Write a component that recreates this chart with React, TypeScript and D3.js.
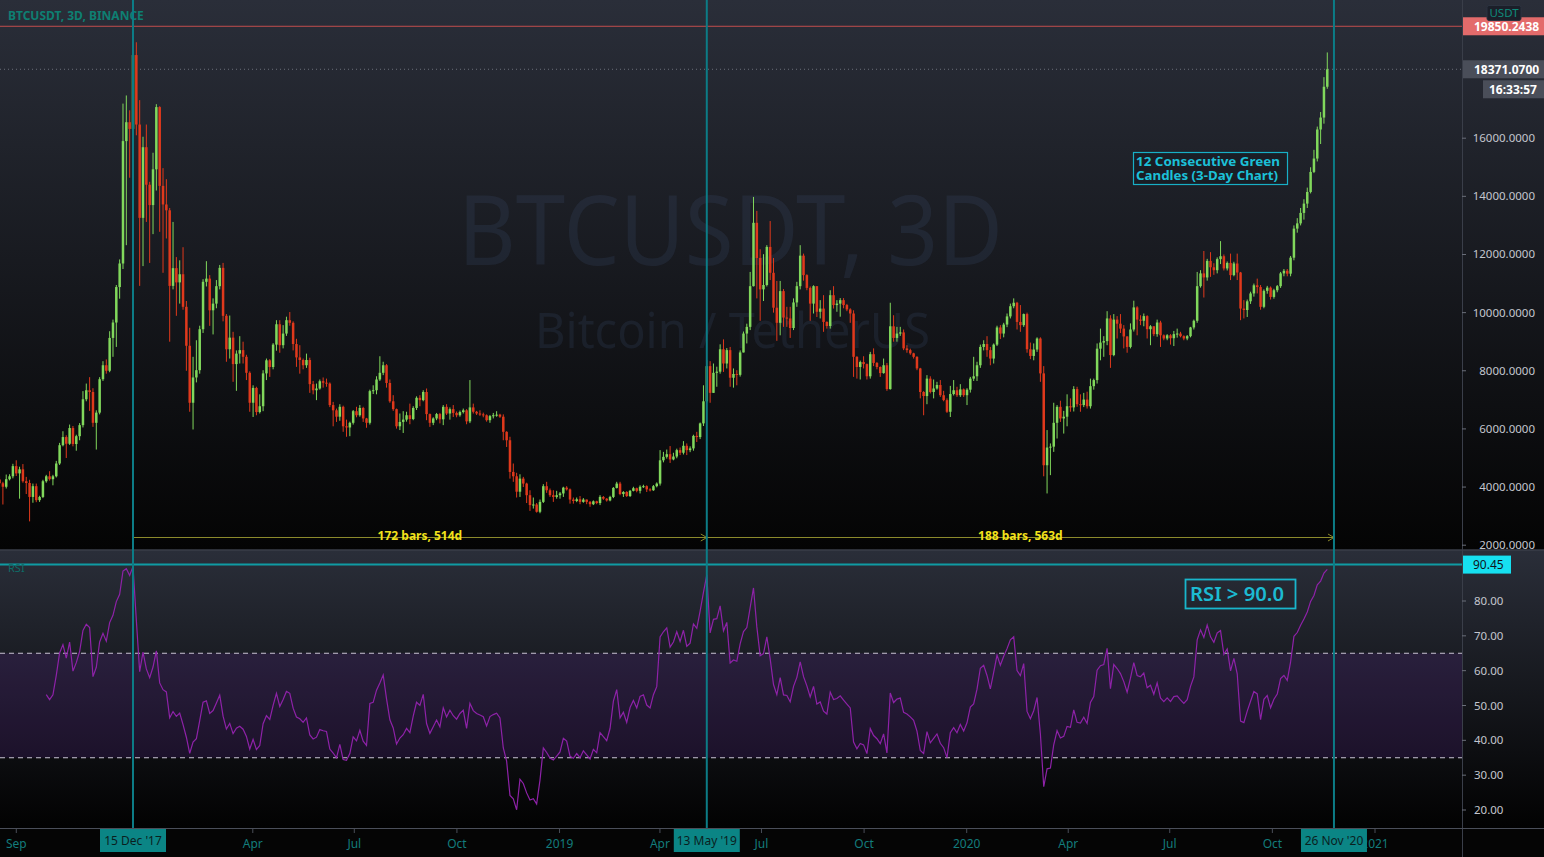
import React from 'react';
import * as d3 from 'd3';

const W = 1544;
const H = 857;

// BTCUSDT 3-day candles starting 17 Aug 2017 (open of first bar)
const firstOpen = 4261;
const closes = [
4130,4010,4270,4370,4720,4470,4610,4200,4140,3660,4030,3550,3660,4200,4370,4270,4370,4810,5440,5720,
5490,6030,5480,5750,6130,7020,7330,7270,6210,6560,7710,8190,8000,9130,9660,10880,11690,15900,16550,16320,
18860,16470,13260,15690,14400,13700,14930,17070,14360,13720,13520,10920,11530,11040,11320,10200,8860,6900,7770,8020,
9430,11060,11170,10080,10310,10910,11540,9890,8740,9140,8230,8590,8710,8480,7930,6900,7410,6580,6780,7910,
8360,8130,8900,9600,8880,9280,9740,9650,8920,8460,8370,8190,8370,7540,7330,7390,7640,7590,7560,6820,
6640,6420,6760,6090,6050,6210,6610,6470,6720,6360,6210,7300,7330,7700,7930,8190,7580,6950,6680,6090,
6240,6320,6470,6340,6720,7070,6990,7270,6510,6210,6360,6510,6330,6760,6530,6680,6550,6470,6580,6640,
6260,6740,6590,6530,6500,6470,6300,6440,6470,6490,6420,5900,5610,4520,4370,3840,4290,4120,3720,3380,
3400,3150,3490,4030,3890,3720,3660,3720,3780,3980,3920,3570,3520,3580,3490,3570,3490,3410,3510,3450,
3660,3600,3540,3660,3970,4120,3760,3830,3690,3870,3960,3870,4010,4030,3920,3890,4030,4120,4920,5040,
5130,4950,5050,5270,5180,5420,5270,5330,5760,5720,6190,6950,8160,7240,7930,7970,8740,8250,8710,7760,
7890,7860,8630,9280,9510,10910,13090,11880,10800,10950,12260,11370,10170,9650,10740,9830,9800,9470,10350,10910,
11960,11290,10850,10310,10910,10030,10140,9680,9540,10600,10260,10310,10430,10260,10110,9970,8480,8130,8300,8230,
7810,8570,8270,8130,7920,8190,7370,9530,9130,9280,9320,8770,8710,8600,8480,8080,7270,7130,7730,7270,
7390,7510,7160,6990,6590,7200,7330,7160,7360,7160,7350,7730,7810,8190,8820,8920,8710,8420,8900,9490,
9280,9590,9870,10220,10340,9680,9570,9950,8740,8510,8730,9110,7910,4750,5360,5390,6210,6760,6360,6420,
6780,6740,7370,6850,6820,7010,6780,7470,7680,8760,8970,9020,9800,8540,9760,9620,9450,9180,8820,9420,
10180,9760,9720,9880,9430,9530,9260,9660,9220,9110,9220,9120,9260,9280,9190,9110,9190,9490,9720,10910,
11350,11210,11780,11560,11460,11840,11940,11520,11710,11290,11690,11380,10140,10090,10390,10660,10940,10880,10200,10750,
10860,10540,10770,10910,11350,11440,11340,11890,12890,13070,13430,13750,14150,14840,15300,16300,16710,17770,18371.07
];
const highs = [
4370,4180,4430,4440,4800,4920,4700,4790,4350,4250,4120,4120,3700,4250,4420,4545,4420,4900,5520,5920,
5780,6150,6100,5800,6200,7300,7560,7780,7400,6640,7780,8330,8390,9360,9760,10950,11830,17190,17470,16960,
19798,19300,17310,16050,16470,14500,15500,17170,17100,14970,14590,13600,13120,11910,11800,12250,10400,9480,8480,9050,
9550,11150,11770,11290,10490,11120,11640,11710,9950,9900,9340,8700,9190,9000,8550,7980,7500,7450,7190,8020,
8420,8400,8950,9740,9740,9570,9860,10020,9700,9100,8880,8420,8590,8450,7650,7560,7700,7770,7730,7600,
6930,6700,6850,6800,6320,6250,6650,6760,6820,6760,6380,7350,7500,7810,8500,8310,8230,7700,7160,6700,
6530,6610,6590,6870,6780,7120,7160,7330,7390,6530,6400,6550,6550,6820,6850,6740,6820,6600,6630,6700,
6680,7680,6870,6620,6640,6560,6500,6480,6550,6610,6520,6500,5920,5730,4810,4490,4440,4350,4150,3890,
3640,3450,3570,4100,4180,3950,3890,3870,3830,4010,4030,3950,3640,3640,3690,3620,3570,3520,3540,3530,
3720,3690,3620,3700,4000,4180,4180,3860,3860,3900,4010,3980,4060,4080,4060,3960,4070,4160,5270,5210,
5290,5410,5180,5320,5360,5580,5500,5400,5800,5900,6220,7500,8360,8330,8250,8140,8910,9080,8780,8820,
8080,8020,8700,9350,9620,11400,13980,13500,12180,12010,12320,13150,11880,11090,11090,10810,10200,10200,10490,11060,
12320,12030,11320,10900,10940,10910,10430,10600,9700,10770,10910,10430,10500,10500,10300,10150,10080,8500,8350,8500,
8250,8650,8770,8300,8150,8420,8270,10340,9910,9510,9510,9420,8880,8760,8620,8500,8100,7300,7850,7810,
7700,7620,7680,7310,7050,7480,7680,7450,7540,7390,7400,7790,8480,8310,8900,9050,9190,8820,8940,9550,
9570,9650,9970,10310,10490,10370,10260,9970,10000,8970,8940,9150,9150,8160,5960,5500,6900,6820,6970,6620,
7190,7050,7470,7450,7190,7240,7280,7730,7730,8940,9450,9190,10050,9910,9950,9880,9950,9570,9190,9630,
10410,10220,9910,9970,9910,9570,9400,9760,9720,9250,9260,9260,9370,9450,9340,9220,9230,9510,9760,11400,
11460,12120,11850,12080,11700,11900,12460,12000,11760,12030,11750,12030,11400,10430,10450,10720,11000,11170,10950,10800,
10920,10900,10820,10950,11400,11500,11500,11950,13000,13250,13600,13900,14300,15000,15600,16400,16900,18100,18950
];
const lows = [
3980,3400,3950,4230,4300,4380,3600,4150,3760,2820,3460,3480,3490,3620,4150,4220,4060,4330,4760,5400,
5000,5450,5400,5250,5610,6050,6950,6620,6070,5290,6500,7650,7900,7950,8480,8820,10480,11500,12320,14640,
16200,16100,10920,11600,13120,11710,12700,14200,12780,11370,12550,9000,10800,9890,10310,10100,8000,6590,5980,7600,
7900,9300,10900,9545,9250,10150,10800,9700,8310,8420,7620,7310,8250,8250,7680,6590,6410,6470,6530,6610,
7680,7790,8050,8690,8620,8770,9200,9550,8700,8135,7900,8050,8100,7240,7190,6990,7350,7420,7450,6750,
6090,6240,6280,5900,5730,5750,6150,6400,6420,6240,6040,6150,7200,7190,7650,7850,7420,6900,6620,6010,
5960,5860,6250,6160,6300,6650,6780,6950,6300,6070,6130,6300,6190,6130,6480,6320,6410,6400,6420,6530,
6160,6200,6530,6480,6450,6400,6250,6210,6360,6420,6380,5610,5380,4290,4180,3640,3660,4000,3450,3180,
3260,3120,3100,3450,3800,3660,3490,3600,3600,3660,3880,3430,3430,3480,3410,3460,3410,3320,3380,3410,
3380,3560,3500,3510,3620,3950,3720,3660,3660,3660,3850,3820,3780,3970,3830,3850,3870,3990,4050,4850,
4980,4830,4920,4990,5100,5120,5100,5200,5250,5550,5650,6100,6900,6900,7300,7450,7900,7960,8080,7450,
7420,7500,7800,8650,8940,9400,10900,10490,9720,10400,10900,11120,10000,9030,9220,9510,9510,9130,9400,10200,
10800,11100,10770,9720,9970,9850,9800,9340,9450,9450,10140,10030,9860,10150,10050,9650,7790,7730,7700,8080,
7700,7730,8160,8050,7790,7900,7310,7350,9000,9000,9200,8710,8620,8550,8420,8020,7050,6470,6850,7220,
7050,7350,7100,6950,6550,6410,7150,7100,7100,7100,6820,7250,7650,7650,8100,8700,8480,8190,8250,8850,
9090,9150,9500,9800,10150,9420,9340,9510,8620,8400,8360,8650,7620,4370,3780,4410,5210,5670,6240,5840,
6090,6590,6600,6760,6590,6750,6700,6700,7350,7560,8360,8480,8880,8100,8500,9110,9300,8770,8620,8770,
9350,9220,9570,9530,9110,8880,9190,9170,8820,9050,9050,8900,8850,9140,9150,9050,9050,9150,9420,9650,
10860,10520,11100,11230,11300,11350,11670,11450,11450,11120,11250,11120,9740,9800,9850,10300,10550,10660,10100,10150,
10650,10450,10480,10700,10850,11250,11250,11250,11800,12750,13000,13200,13600,14100,14800,15200,15800,16500,17700
];

const priceTicks = [2000, 4000, 6000, 8000, 10000, 12000, 14000, 16000];
const rsiTicks = [20, 30, 40, 50, 60, 70, 80];
const timeTickDates = ['2017-09-01','2018-01-01','2018-04-01','2018-07-01','2018-10-01','2019-01-01','2019-04-01','2019-07-01','2019-10-01','2020-01-01','2020-04-01','2020-07-01','2020-10-01','2021-01-01'];
const timeTickLabels = ['Sep','2018','Apr','Jul','Oct','2019','Apr','Jul','Oct','2020','Apr','Jul','Oct','2021'];
const markerBars = [40, 212, 400];
const markerLabels = ["15 Dec '17", "13 May '19", "26 Nov '20"];
const rangeTexts = ['172 bars, 514d', '188 bars, 563d'];
const lastPrice = 18371.07;
const alertPrice = 19850.2438;
const rsiLevel = 90.45;
const rsiLength = 14;

const GREEN = '#81d85c';
const RED = '#e0391c';

function computeRsi(c: number[], len: number): (number | null)[] {
  const out: (number | null)[] = c.map(() => null);
  let up = 0, dn = 0;
  for (let i = 1; i <= len; i++) {
    const d = c[i] - c[i - 1];
    up += Math.max(d, 0);
    dn += Math.max(-d, 0);
  }
  up /= len; dn /= len;
  out[len] = dn === 0 ? 100 : 100 - 100 / (1 + up / dn);
  for (let i = len + 1; i < c.length; i++) {
    const d = c[i] - c[i - 1];
    up = (up * (len - 1) + Math.max(d, 0)) / len;
    dn = (dn * (len - 1) + Math.max(-d, 0)) / len;
    out[i] = dn === 0 ? 100 : 100 - 100 / (1 + up / dn);
  }
  return out;
}

export default function App() {
  const PANE_R = 1462;
  const x = d3.scaleLinear().domain([0, 400]).range([-0.44, 1333.96]);
  const xt = d3.scaleUtc()
    .domain([new Date(Date.UTC(2017, 7, 17)), new Date(Date.UTC(2021, 0, 1))])
    .range([-0.44, 1375]);
  const y = d3.scaleLinear().domain([2000, 16000]).range([545.2, 138.2]);
  const yr = d3.scaleLinear().domain([20, 80]).range([810, 601]);
  const opens = closes.map((c, i) => (i === 0 ? firstOpen : closes[i - 1]));
  const rsi = computeRsi(closes, rsiLength);
  const rsiPts: [number, number][] = [];
  rsi.forEach((v, i) => { if (v !== null) rsiPts.push([i, v]); });
  const line = d3.line<[number, number]>().x(d => x(d[0])).y(d => yr(d[1]));
  const bw = 2.5;
  const font = "'Noto Sans', 'DejaVu Sans', sans-serif";

  return (
    <svg width={W} height={H} style={{ position: 'absolute', left: 0, top: 0, display: 'block' }} fontFamily={font}>
      <defs>
        <linearGradient id="gp" x1="0" y1="0" x2="0" y2="1">
          <stop offset="0" stopColor="#2a2e39" />
          <stop offset="1" stopColor="#040404" />
        </linearGradient>
        <linearGradient id="gr" x1="0" y1="0" x2="0" y2="1">
          <stop offset="0" stopColor="#2a2e39" />
          <stop offset="1" stopColor="#020202" />
        </linearGradient>
        <clipPath id="cp"><rect x={0} y={0} width={PANE_R} height={549} /></clipPath>
        <clipPath id="cr"><rect x={0} y={551} width={PANE_R} height={277} /></clipPath>
      </defs>
      {/* backgrounds */}
      <rect x={0} y={0} width={W} height={550} fill="url(#gp)" />
      <rect x={0} y={550} width={W} height={278} fill="url(#gr)" />
      <rect x={0} y={828} width={W} height={29} fill="#050505" />
      {/* rsi band */}
      <rect x={0} y={yr(65)} width={PANE_R} height={yr(35) - yr(65)} fill="rgba(112,40,180,0.17)" />
      {/* watermark */}
      <text x={458} y={265} fontSize={96} textLength={545} lengthAdjust="spacingAndGlyphs" fill="rgba(70,92,135,0.17)">BTCUSDT, 3D</text>
      <text x={535} y={348} fontSize={50} textLength={395} lengthAdjust="spacingAndGlyphs" fill="rgba(70,92,135,0.17)">Bitcoin / TetherUS</text>

      {/* pane separators */}
      <line x1={0} x2={W} y1={550} y2={550} stroke="#3a3e49" strokeWidth={1.5} />
      <line x1={PANE_R + 0.5} x2={PANE_R + 0.5} y1={0} y2={857} stroke="#3a3e49" strokeWidth={1} />
      <line x1={0} x2={W} y1={828.5} y2={828.5} stroke="#4a4e59" strokeWidth={1} />

      {/* price pane */}
      <g clipPath="url(#cp)">
        <line x1={0} x2={PANE_R} y1={y(alertPrice)} y2={y(alertPrice)} stroke="#c24d4d" strokeWidth={1} />
        <line x1={0} x2={PANE_R} y1={y(lastPrice)} y2={y(lastPrice)} stroke="#6b6f7a" strokeWidth={1} strokeDasharray="1 3" />
        {closes.map((c, i) => {
          const o = opens[i];
          const up = c >= o;
          const col = up ? GREEN : RED;
          const cx = x(i);
          const hi = Math.max(highs[i], o, c);
          const lo = Math.min(lows[i], o, c);
          const top = y(Math.max(o, c));
          const bot = y(Math.min(o, c));
          return (
            <g key={i}>
              <line x1={cx} x2={cx} y1={y(hi)} y2={y(lo)} stroke={col} strokeWidth={1} />
              <rect x={cx - bw / 2} y={top} width={bw} height={Math.max(1, bot - top)} fill={col} />
            </g>
          );
        })}
        {/* date ranges */}
        {[0, 1].map(k => {
          const x1 = x(markerBars[k]);
          const x2 = x(markerBars[k + 1]);
          const yy = 537.5;
          return (
            <g key={k}>
              <line x1={x1} x2={x2} y1={yy} y2={yy} stroke="#8c8a2c" strokeWidth={1} />
              <path d={`M${x2 - 6},${yy - 3.5} L${x2},${yy} L${x2 - 6},${yy + 3.5}`} fill="none" stroke="#8c8a2c" strokeWidth={1} />
              <text x={(x1 + x2) / 2} y={yy + 2} textAnchor="middle" fontSize={12} fontWeight="bold" fill="#f2e21b">{rangeTexts[k]}</text>
            </g>
          );
        })}
        {/* annotation */}
        <rect x={1133.5} y={152.5} width={154} height={32} fill="rgba(20,24,32,0.4)" stroke="#18afc6" strokeWidth={1.2} />
        <text x={1136} y={166} fontSize={12.5} fontWeight="bold" fill="#1cc0d8" textLength={144} lengthAdjust="spacingAndGlyphs">12 Consecutive Green</text>
        <text x={1136} y={180} fontSize={12.5} fontWeight="bold" fill="#1cc0d8" textLength={142} lengthAdjust="spacingAndGlyphs">Candles (3-Day Chart)</text>
      </g>
      <text x={8} y={20} fontSize={12} fontWeight="bold" fill="#0e7f72">BTCUSDT, 3D, BINANCE</text>

      {/* rsi pane */}
      <g clipPath="url(#cr)">
        <line x1={0} x2={PANE_R} y1={yr(65)} y2={yr(65)} stroke="#c9c4d4" strokeWidth={1} strokeDasharray="5 4" />
        <line x1={0} x2={PANE_R} y1={yr(35)} y2={yr(35)} stroke="#c9c4d4" strokeWidth={1} strokeDasharray="5 4" />
        <path d={line(rsiPts) || ''} fill="none" stroke="#8e22a8" strokeWidth={1.2} />
        <line x1={0} x2={PANE_R} y1={yr(rsiLevel)} y2={yr(rsiLevel)} stroke="#0f9ba3" strokeWidth={2} />
        <rect x={1185.5} y={579.5} width={110} height={29} fill="none" stroke="#19b6cc" strokeWidth={1.8} />
        <text x={1190} y={601} fontSize={19} fontWeight={600} fill="#1cbad2" textLength={94} lengthAdjust="spacingAndGlyphs">RSI &gt; 90.0</text>
      </g>
      <text x={8} y={572} fontSize={11} fill="#0e6d68">RSI</text>

      {/* vertical markers */}
      {markerBars.map((b, k) => (
        <line key={k} x1={x(b)} x2={x(b)} y1={0} y2={828} stroke="#0c7c86" strokeWidth={2} />
      ))}

      {/* price axis */}
      {priceTicks.map(t => (
        <g key={t}>
          <line x1={PANE_R} x2={PANE_R + 4} y1={y(t)} y2={y(t)} stroke="#6b6f7a" />
          <text x={1535} y={y(t) + 4} textAnchor="end" fontSize={11.5} fill="#c3c6ce">{t.toFixed(4)}</text>
        </g>
      ))}
      <rect x={1463} y={y(alertPrice) - 9} width={81} height={18} fill="#e36b6b" />
      <text x={1474} y={y(alertPrice) + 4.5} fontSize={12} fontWeight="bold" fill="#ffffff">{alertPrice.toFixed(4)}</text>
      <rect x={1487} y={5.5} width={34} height={15} rx={2} fill="#1b1f29" stroke="#2c3340" />
      <text x={1504} y={17} textAnchor="middle" fontSize={11.5} fill="#0f8a7a">USDT</text>
      <rect x={1463} y={y(lastPrice) - 9} width={81} height={18} fill="#4a4e59" />
      <text x={1474} y={y(lastPrice) + 4.5} fontSize={12} fontWeight="bold" fill="#ffffff">{lastPrice.toFixed(4)}</text>
      <rect x={1483} y={y(lastPrice) + 11} width={61} height={18} fill="#4a4e59" />
      <text x={1489} y={y(lastPrice) + 24.5} fontSize={12} fontWeight="bold" fill="#ffffff">16:33:57</text>

      {/* rsi axis */}
      {rsiTicks.map(t => (
        <g key={t}>
          <line x1={PANE_R} x2={PANE_R + 4} y1={yr(t)} y2={yr(t)} stroke="#6b6f7a" />
          <text x={1474} y={yr(t) + 4} fontSize={11.5} fill="#c3c6ce">{t.toFixed(2)}</text>
        </g>
      ))}
      <rect x={1463} y={yr(rsiLevel) - 9} width={48} height={18} fill="#16e0f0" />
      <text x={1473} y={yr(rsiLevel) + 4.5} fontSize={12} fill="#10141c">{rsiLevel.toFixed(2)}</text>

      {/* time axis */}
      {timeTickDates.map((d, k) => {
        const tx = xt(new Date(d + 'T00:00:00Z'));
        return (
          <g key={d}>
            <line x1={tx} x2={tx} y1={829} y2={833} stroke="#4a4e59" />
            <text x={tx} y={848} textAnchor="middle" fontSize={12} fill="#137c7c">{timeTickLabels[k]}</text>
          </g>
        );
      })}
      {markerBars.map((b, k) => (
        <g key={k}>
          <rect x={x(b) - 33} y={829} width={66} height={23} fill="#0b8585" />
          <text x={x(b)} y={845} textAnchor="middle" fontSize={12} fill="#0a1f1f">{markerLabels[k]}</text>
        </g>
      ))}
    </svg>
  );
}
